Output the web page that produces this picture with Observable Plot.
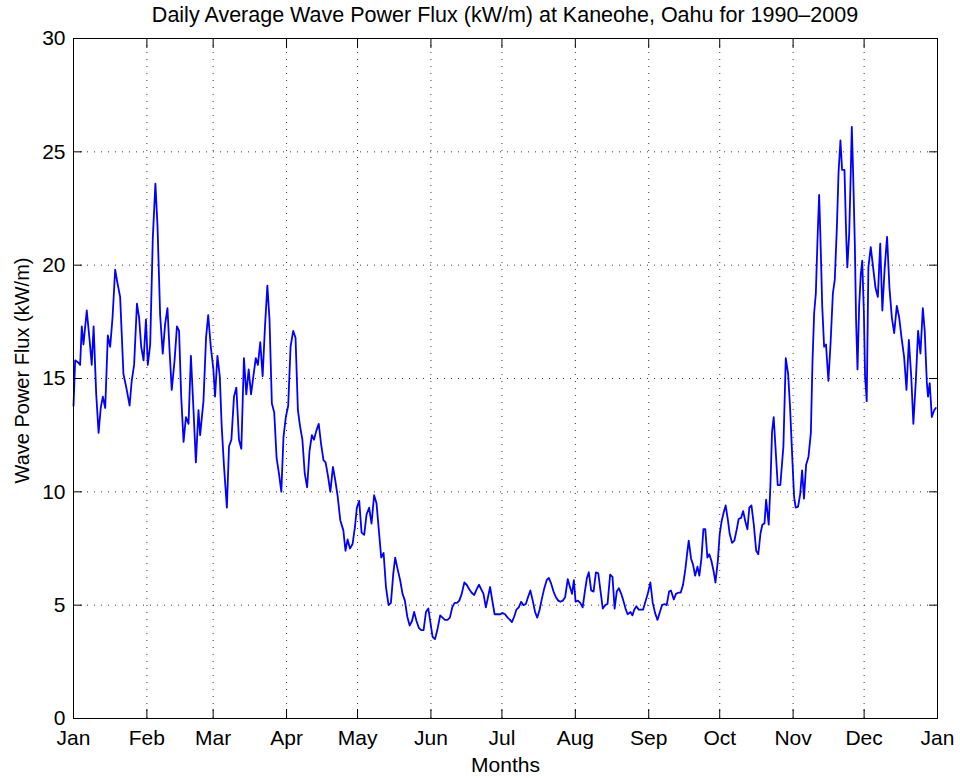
<!DOCTYPE html>
<html><head><meta charset="utf-8">
<script src="https://cdn.jsdelivr.net/npm/d3@7"></script>
<script src="https://cdn.jsdelivr.net/npm/@observablehq/plot@0.6"></script>
<style>
body{margin:0;background:#fff;font-family:"Liberation Sans",Arial,Helvetica,sans-serif;position:relative;width:960px;height:778px;overflow:hidden;}
#title{position:absolute;left:0;top:0;height:30px;line-height:30px;width:960px;box-sizing:border-box;padding-left:73px;padding-right:23px;text-align:center;font-size:21.5px;color:#000;white-space:nowrap;z-index:2;}
#chart{position:absolute;left:0;top:0;}
</style></head><body>
<div id="chart"></div>
<div id="title">Daily Average Wave Power Flux (kW/m) at Kaneohe, Oahu for 1990–2009</div>
<script>
const monthLabels = ["Jan","Feb","Mar","Apr","May","Jun","Jul","Aug","Sep","Oct","Nov","Dec","Jan"];
const monthStarts = [0,31,59,90,120,151,181,212,243,273,304,334,365];
const yTicks = [0,5,10,15,20,25,30];

const day = [
0,0.7,2.1,2.8,3.5,4.2,5.6,6.8,7.7,8.5,9.6,10.6,11.5,12.4,13.4,14.5,15.5,16.5,17.6,18.6,19.7,21.1,22.5,23.7,24.6,25.6,26.8,27.7,28.6,29.6,30.6,31.4,32.4,33.5,34.6,35.5,36.6,37.7,38.7,39.7,40.6,41.5,42.7,43.7,44.6,45.5,46.5,47.5,48.6,49.6,50.7,51.7,52.8,53.5,
54.9,56,56.9,58,59.1,59.8,60.8,61.8,62.6,63.6,64.8,65.7,66.7,67.8,68.8,69.9,70.9,72,73,74,75,76,77,77.9,78.9,79.9,80.9,81.9,82.8,83.8,84.8,85.8,86.8,87.8,88.7,89.7,90.7,91.7,92.8,93.8,94.8,95.7,96.7,97.7,98.7,99.7,100.7,101.6,102.6,103.6,104.6,105.6,106.5,107.5,108.5,109.6,110.6,111.6,112.7,
114,114.9,115.8,116.8,117.9,118.9,119.7,120.7,121.7,122.8,123.8,124.9,125.9,127,128,129,130,131,132,133.1,134.1,135.1,135.9,136.9,138,139,140,141,142,143,143.9,144.9,145.9,146.9,147.9,148.9,149.9,150.7,151.7,152.7,153.7,154.9,155.9,156.9,158,159,160,161,162,163,164,165.1,166.1,167.2,168.2,169.3,170.3,171.3,
173.2,174.2,175.1,176,177,177.9,179.2,180.3,181.3,182.3,183.4,184.4,185.2,186.2,187.1,188.1,189.1,190.1,191.1,192,193,194,195,195.9,196.9,197.9,198.9,199.9,200.8,201.8,202.8,203.8,204.8,205.7,206.7,207.7,208.8,209.6,210.6,211.4,212.1,213.1,214.1,215.1,216.1,216.9,217.7,218.7,219.7,220.7,221.7,222.6,223.6,224.6,225.6,226.7,227.7,228.6,229.5,230.4,
231.4,232.3,233.2,234.1,235.3,236.1,236.9,237.8,238.8,239.8,240.6,241.6,242.6,243.7,244.7,245.7,246.7,247.6,248.6,249.6,250.6,251.6,252.4,253.6,254.5,255.5,256.5,257.5,258.5,259.2,259.9,260.9,261.7,262.6,263.6,264.4,265.3,266.1,266.9,267.8,268.6,269.5,270.5,271.2,272.2,273,273.8,274.7,275.5,276.4,277.2,278.2,279.2,280.2,281,282,282.9,283.8,284.7,285.5,286.4,287.4,288.4,289.3,290.2,291,291.9,292.6,293.1,293.7,294.4,295.1,295.8,
297.5,298.6,299.9,300.9,301.9,302.7,303.7,304.4,305.1,306.1,307,307.8,308.6,309.5,310.5,311.5,312.2,312.9,313.6,314.3,315,315.5,316.3,317.1,317.9,318.9,319.8,320.8,321.6,322.5,323.2,324,324.7,325.7,326.4,326.9,327.7,328.4,328.8,329.4,330.1,330.6,331.2,331.9,332.6,333.2,333.9,334.4,335.1,335.8,336.8,337.8,338.8,339.8,340.8,341.7,342.7,343.7,344.7,345.7,346.7,347.8,348.8,349.8,350.9,351.9,352.9,353.9,354.8,355.8,356.8,357.8,358.8,359.6,360.5,361,361.7,362.6,363.6,364.3
];

const flux = [
13.8,15.8,15.7,15.6,17.3,16.5,18.0,16.7,15.6,17.3,14.3,12.6,13.7,14.2,13.7,16.9,16.4,17.7,19.8,19.2,18.6,15.2,14.5,13.8,14.9,15.6,18.3,17.7,16.4,15.8,17.6,15.6,16.5,21.2,23.6,21.7,17.8,16.1,17.4,18.1,16.2,14.5,15.8,17.3,17.1,14.2,12.2,13.3,13.0,16.0,13.6,11.3,13.6,12.5,
14.0,16.8,17.8,16.4,15.4,14.2,16.0,15.1,12.9,11.1,9.3,12.0,12.3,14.2,14.6,12.3,11.9,15.9,14.3,15.4,14.3,15.1,15.9,15.6,16.6,15.1,17.3,19.1,17.6,13.9,13.5,11.5,10.8,10.0,12.4,13.3,13.8,16.4,17.1,16.8,13.6,12.9,12.3,10.8,10.2,11.8,12.5,12.3,12.7,13.0,12.1,11.4,11.3,10.7,10.0,11.1,10.5,9.8,8.75,
8.3,7.4,7.9,7.5,7.7,8.45,9.3,9.6,8.2,8.1,9.0,9.3,8.6,9.85,9.5,8.3,7.1,7.3,5.8,5.0,5.1,6.4,7.1,6.6,6.1,5.5,5.2,4.5,4.1,4.3,4.7,4.3,4.0,3.9,3.9,4.7,4.85,4.3,3.6,3.5,3.9,4.55,4.45,4.35,4.35,4.45,4.9,5.1,5.1,5.2,5.5,6.0,5.9,5.7,5.55,5.45,5.7,5.9,
5.5,4.9,5.35,5.8,5.15,4.6,4.6,4.6,4.65,4.6,4.45,4.35,4.25,4.5,4.8,4.9,5.15,5.0,5.05,5.35,5.65,5.2,4.7,4.45,4.8,5.3,5.75,6.1,6.2,5.95,5.6,5.35,5.2,5.15,5.2,5.35,6.15,5.85,5.5,6.1,5.15,5.2,5.1,4.9,5.65,6.2,6.45,5.65,5.6,6.45,6.4,5.65,4.85,5.0,5.05,6.35,6.25,4.85,5.6,5.75,
5.5,5.2,4.85,4.6,4.7,4.55,4.8,4.95,4.8,4.8,4.8,5.15,5.5,6.0,5.1,4.65,4.35,4.65,5.0,5.05,5.0,5.6,5.65,5.25,5.5,5.55,5.55,5.9,6.6,7.25,7.85,7.05,6.8,6.3,6.7,6.3,7.1,8.35,8.35,7.1,7.25,6.95,6.45,6.0,6.95,8.15,8.7,9.1,9.4,8.8,8.15,7.75,7.85,8.35,8.8,8.85,9.15,8.7,8.35,9.3,9.4,8.55,7.4,7.25,8.15,8.55,8.6,9.65,9.15,8.55,10.25,12.65,13.3,
10.3,10.3,12.0,15.9,15.2,13.75,11.4,9.8,9.3,9.35,9.9,10.95,9.7,11.2,11.55,12.6,15.8,17.9,18.75,21.1,23.1,21.4,18.2,16.4,16.5,14.9,16.5,18.75,19.35,21.7,24.1,25.5,24.2,24.2,21.4,19.9,21.4,24.3,26.1,23.9,20.8,17.6,15.4,18.2,19.6,20.2,17.9,15.1,14.0,19.9,20.8,19.9,19.0,18.6,20.95,18.0,19.9,21.25,19.0,17.7,17.0,18.2,17.7,16.8,15.95,14.5,16.7,15.1,13.0,14.8,17.1,16.1,18.1,17.1,14.8,14.2,14.8,13.3,13.6,13.7
];

const data = day.map((d, i) => ({day: d, flux: flux[i]}));
const gridStyle = {stroke: "#222", strokeOpacity: 0.9, strokeDasharray: "1,6"};
const font = '"Liberation Sans", Arial, Helvetica, sans-serif';

const chart = Plot.plot({
  width: 960,
  height: 778,
  marginTop: 38,
  marginBottom: 60,
  marginLeft: 73,
  marginRight: 23,
  style: {fontFamily: font, fontSize: "21px", color: "#000", background: "#fff", overflow: "visible"},
  x: {domain: [0, 365]},
  y: {domain: [0, 30]},
  marks: [
    Plot.gridX(monthStarts.slice(1, -1), gridStyle),
    Plot.gridY(yTicks.slice(1, -1), gridStyle),
    Plot.line(data, {x: "day", y: "flux", stroke: "#0000ff", strokeWidth: 1.8}),
    Plot.frame({stroke: "#000", strokeWidth: 1}),
    Plot.axisX(monthStarts, {anchor: "bottom", tickSize: -9, tickPadding: 21, label: null,
      tickFormat: d => monthLabels[monthStarts.indexOf(d)]}),
    Plot.axisX(monthStarts, {anchor: "top", tickSize: -9, label: null, tickFormat: () => ""}),
    Plot.axisY(yTicks, {anchor: "left", tickSize: -9, tickPadding: 17, label: null}),
    Plot.axisY(yTicks, {anchor: "right", tickSize: -9, label: null, tickFormat: () => ""}),
    Plot.text(["Months"], {text: d => d, frameAnchor: "bottom", lineAnchor: "middle", dy: 47, fontSize: 21}),
    Plot.text(["Wave Power Flux (kW/m)"], {text: d => d, frameAnchor: "left", textAnchor: "middle", lineAnchor: "middle", dx: -51, dy: -8, rotate: -90, fontSize: 20})
  ]
});
document.getElementById("chart").appendChild(chart);
</script>
</body></html>
